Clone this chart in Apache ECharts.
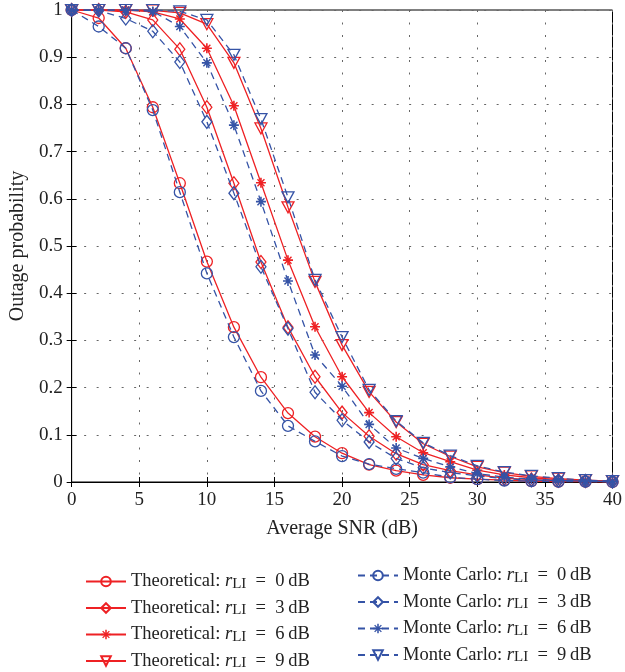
<!DOCTYPE html>
<html>
<head>
<meta charset="utf-8">
<script src="https://cdn.jsdelivr.net/npm/echarts@6/dist/echarts.min.js"></script>
<style>
html,body{margin:0;padding:0;background:#fff;}
#chart{width:625px;height:672px;}
</style>
</head>
<body>
<div id="chart"></div>
<script>
// ---- data ----
const snr = [0,2,4,6,8,10,12,14,16,18,20,22,24,26,28,30,32,34,36,38,40];
const theo0 = [1.0,0.983,0.919,0.794,0.633,0.467,0.328,0.222,0.146,0.096,0.061,0.037,0.024,0.015,0.009,0.006,0.004,0.002,0.001,0.001,0.0];
const mc0   = [1.0,0.965,0.919,0.788,0.614,0.442,0.307,0.193,0.119,0.086,0.055,0.038,0.028,0.020,0.010,0.006,0.003,0.002,0.001,0.001,0.0];
const theo3 = [1.0,1.0,0.996,0.979,0.917,0.794,0.633,0.466,0.328,0.223,0.147,0.097,0.060,0.037,0.024,0.015,0.008,0.005,0.003,0.002,0.001];
const mc3   = [1.0,0.999,0.982,0.955,0.890,0.763,0.612,0.456,0.325,0.190,0.131,0.085,0.050,0.030,0.020,0.013,0.007,0.004,0.003,0.002,0.001];
const theo6 = [1.0,1.0,1.0,0.996,0.981,0.919,0.797,0.634,0.470,0.329,0.223,0.147,0.096,0.062,0.043,0.025,0.015,0.009,0.005,0.003,0.002];
const mc6   = [1.0,1.0,1.0,0.997,0.965,0.888,0.756,0.594,0.426,0.269,0.203,0.122,0.072,0.050,0.032,0.018,0.010,0.006,0.004,0.002,0.001];
const theo9 = [1.0,1.0,1.0,0.999,0.994,0.970,0.888,0.749,0.582,0.424,0.290,0.191,0.127,0.081,0.054,0.032,0.020,0.012,0.007,0.004,0.002];
const mc9   = [1.0,1.0,1.0,1.0,0.997,0.979,0.905,0.769,0.603,0.428,0.307,0.195,0.129,0.083,0.056,0.034,0.021,0.013,0.008,0.004,0.002];
const rliValues = ['0','3','6','9'];
const theoPrefix = 'Theoretical: ';
const mcPrefix = 'Monte Carlo: ';
const xTitle = 'Average SNR (dB)';
const yTitle = 'Outage probability';

// ---- styling ----
const RED = '#ee2124';
const BLUE = '#3553a6';
const FONT = '"Liberation Serif", "DejaVu Serif", serif';
const STAR = 'path://M0,4.2 L10,4.2 L10,5.8 L0,5.8 Z M4.2,0 L5.8,0 L5.8,10 L4.2,10 Z M1,2 L2,1 L9,8 L8,9 Z M8,1 L9,2 L2,9 L1,8 Z';
const markers = [
  {symbol:'circle', size:11, rotate:0, filled:false},
  {symbol:'diamond', size:[10,13], rotate:0, filled:false},
  {symbol:STAR, size:10, rotate:0, filled:true},
  {symbol:'triangle', size:[12,11], rotate:180, filled:false}
];
const theoSets = [theo0, theo3, theo6, theo9];
const mcSets = [mc0, mc3, mc6, mc9];

function pairs(v){ return snr.map((x,i)=>[x, v[i]]); }

const series = [];
const theoNames = [], mcNames = [];
rliValues.forEach((r,k)=>{
  const m = markers[k];
  const tn = 'T' + r, mn = 'M' + r;
  theoNames.push(tn); mcNames.push(mn);
  series.push({
    name: tn, type:'line', data: pairs(theoSets[k]),
    symbol: m.symbol, symbolSize: m.size, symbolRotate: m.rotate,
    showAllSymbol: true, z: 2,
    lineStyle:{color:RED, width:1.3, type:'solid'},
    itemStyle:{color: m.filled ? RED : 'rgba(255,255,255,0)', borderColor:RED, borderWidth: m.filled?0:1.3},
    emphasis:{disabled:true}, animation:false
  });
});
rliValues.forEach((r,k)=>{
  const m = markers[k];
  series.push({
    name: 'M' + r, type:'line', data: pairs(mcSets[k]),
    symbol: m.symbol, symbolSize: m.size, symbolRotate: m.rotate,
    showAllSymbol: true, z: 3,
    lineStyle:{color:BLUE, width:1.3, type:[7,5]},
    itemStyle:{color: m.filled ? BLUE : 'rgba(255,255,255,0)', borderColor:BLUE, borderWidth: m.filled?0:1.3},
    emphasis:{disabled:true}, animation:false
  });
});

const rich = {
  n:{fontFamily:FONT, fontSize:18.5, color:'#222', lineHeight:20},
  r:{fontFamily:FONT, fontSize:18.5, fontStyle:'italic', color:'#222', lineHeight:20},
  s:{fontFamily:FONT, fontSize:15, color:'#222', lineHeight:11, verticalAlign:'bottom'}
};
function fmt(prefix){
  return function(name){
    const r = name.slice(1);
    return '{n|' + prefix + '}{r|r}{s|LI}{n|  =  ' + r + '\u2009dB}';
  };
}

const legendCommon = {
  orient:'vertical', itemWidth:40, itemHeight:12, itemGap:7, height:110,
  textStyle:{rich: rich, fontFamily:FONT, fontSize:18.5, color:'#222'},
  selectedMode:false
};

const option = {
  backgroundColor:'#fff',
  animation:false,
  grid:{left:71, right:8, top:10, bottom:190, show:true, borderColor:'#000', borderWidth:1, backgroundColor:'transparent'},
  xAxis:[{
    type:'value', min:0, max:40, interval:5,
    name:xTitle, nameLocation:'middle', nameGap:37,
    nameTextStyle:{fontFamily:FONT, fontSize:20, color:'#222'},
    axisLine:{show:true, lineStyle:{color:'#000', width:1}},
    axisTick:{show:true, inside:true, length:5, lineStyle:{color:'#000'}},
    axisLabel:{fontFamily:FONT, fontSize:19, color:'#222', margin:9},
    splitLine:{show:true, lineStyle:{color:'#666', width:1, type:[2,10.5]}}
  },{
    type:'value', min:0, max:40, interval:5, position:'top',
    axisLine:{show:true, lineStyle:{color:'#000'}},
    axisTick:{show:true, inside:true, length:5, lineStyle:{color:'#000'}},
    axisLabel:{show:false}, splitLine:{show:false}
  }],
  yAxis:[{
    type:'value', min:0, max:1, interval:0.1,
    name:yTitle, nameLocation:'middle', nameGap:43, nameRotate:90,
    nameTextStyle:{fontFamily:FONT, fontSize:20, color:'#222'},
    axisLine:{show:true, lineStyle:{color:'#000', width:1}},
    axisTick:{show:true, inside:true, length:5, lineStyle:{color:'#000'}},
    axisLabel:{fontFamily:FONT, fontSize:19, color:'#222', margin:9},
    splitLine:{show:true, lineStyle:{color:'#666', width:1, type:[2,10.5]}}
  },{
    type:'value', min:0, max:1, interval:0.1, position:'right',
    axisLine:{show:true, lineStyle:{color:'#000'}},
    axisTick:{show:true, inside:true, length:5, lineStyle:{color:'#000'}},
    axisLabel:{show:false}, splitLine:{show:false}
  }],
  legend:[
    Object.assign({}, legendCommon, {left:80, top:567, data:theoNames, formatter: fmt(theoPrefix)}),
    Object.assign({}, legendCommon, {left:352, top:561, data:mcNames, formatter: fmt(mcPrefix)})
  ],
  series: series
};
const chart = echarts.init(document.getElementById('chart'), null, {renderer:'canvas'});
chart.setOption(option);
</script>
</body>
</html>
